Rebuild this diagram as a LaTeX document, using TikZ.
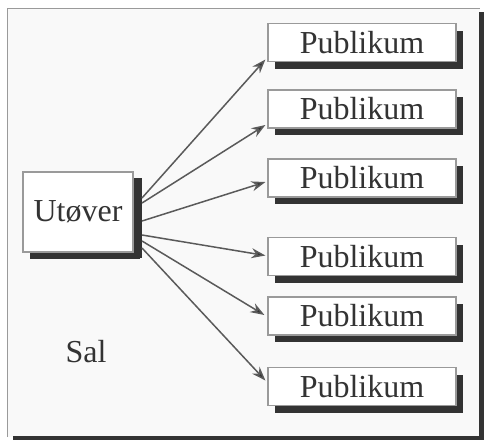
\documentclass[tikz,border=0pt]{standalone}
\usepackage{fontspec}
\setmainfont{Liberation Serif}
\usetikzlibrary{shadows,arrows.meta}
\definecolor{ink}{HTML}{333333}
\definecolor{rim}{HTML}{9A9A9A}
\definecolor{wire}{HTML}{5A5A5A}
\definecolor{paper}{HTML}{F9F9F9}
\tikzset{
  box/.style={draw=rim, line width=0.6pt, fill=white, inner sep=0pt,
    text=ink, font=\fontsize{16}{18}\selectfont,
    drop shadow={shadow xshift=3.6pt, shadow yshift=-3.6pt, opacity=1, fill=ink}},
  pubbox/.style={box, minimum width=94pt, minimum height=19pt},
  actorbox/.style={box, minimum width=55pt, minimum height=40pt,
    drop shadow={shadow xshift=4.5pt, shadow yshift=-3pt, opacity=1, fill=ink}},
  arr/.style={draw=wire, line width=0.75pt,
    -{Stealth[length=7pt, width=5pt, fill=ink]}},
  lbl/.style={text=ink, font=\fontsize{16}{18}\selectfont}
}
\begin{document}
\begin{tikzpicture}[x=0.5pt, y=-0.5pt]
  \useasboundingbox (0,0) rectangle (485,440);
  \fill[white] (0,0) rectangle (485,440);
  % hall frame with dark right and bottom edge
  \fill[paper] (7,8) rectangle (480,437);
  \draw[rim, line width=0.5pt] (7,437) -- (7,8) -- (480,8);
  \fill[ink] (479,12) rectangle (484,439);
  \fill[ink] (13,436) rectangle (484,440);

  % performer
  \node[actorbox] (utover) at (78,212) {Utøver};
  % audience boxes
  \node[pubbox] (p1) at (362,42.5) {Publikum};
  \node[pubbox] (p2) at (362,109) {Publikum};
  \node[pubbox] (p3) at (362,178) {Publikum};
  \node[pubbox] (p4) at (362,256.5) {Publikum};
  \node[pubbox] (p5) at (362,316) {Publikum};
  \node[pubbox] (p6) at (362,386.5) {Publikum};

  \node[lbl] (sal) at (86,352) {Sal};

  % rays from the performer's shadowed edge
  \coordinate (s1) at (142,198);
  \coordinate (s2) at (142,203);
  \coordinate (s3) at (142,221);
  \coordinate (s4) at (142,235);
  \coordinate (s5) at (142,241);
  \coordinate (s6) at (142,248);

  \draw[arr] (s1) -- ([shift={(-2,17)}]p1.west);
  \draw[arr] (s2) -- ([shift={(-2,16)}]p2.west);
  \draw[arr] (s3) -- ([shift={(-2,4)}]p3.west);
  \draw[arr] (s4) -- ([shift={(-2,-1)}]p4.west);
  \draw[arr] (s5) -- ([shift={(-3,-1)}]p5.west);
  \draw[arr] (s6) -- ([shift={(-2,-6)}]p6.west);
\end{tikzpicture}
\end{document}
